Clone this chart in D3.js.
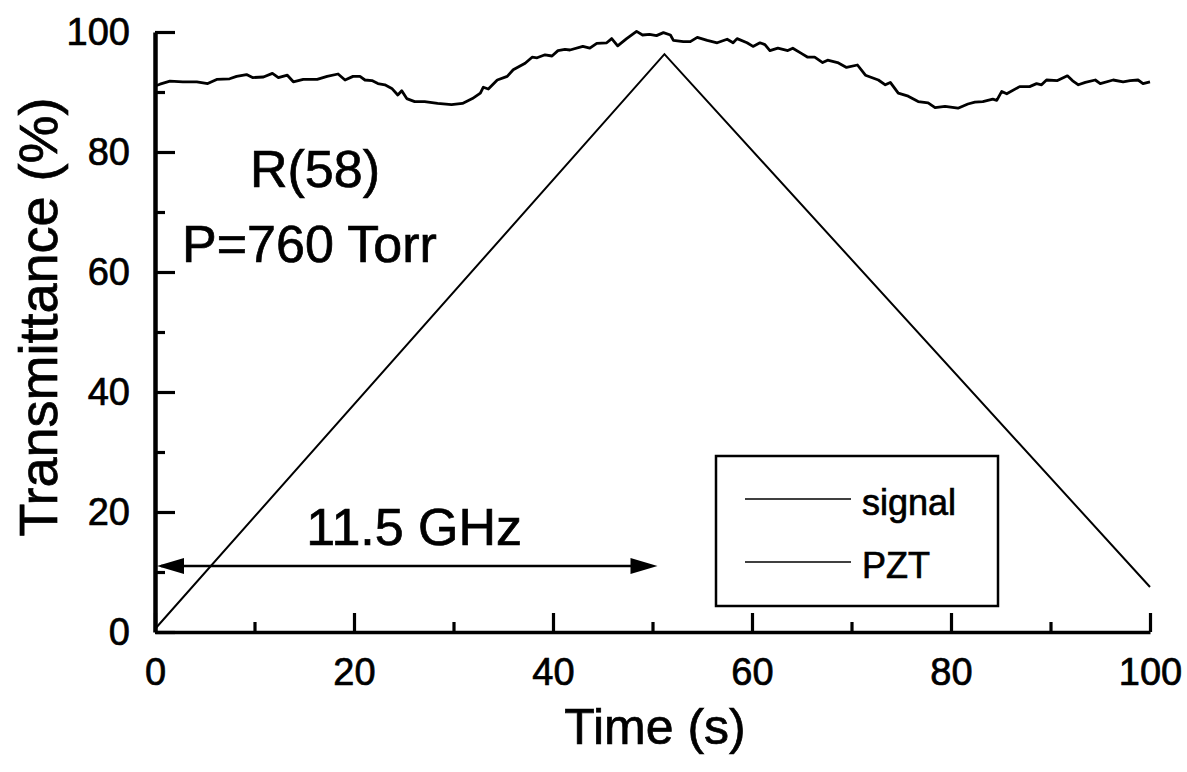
<!DOCTYPE html>
<html>
<head>
<meta charset="utf-8">
<script src="https://cdn.jsdelivr.net/npm/d3@7"></script>
<style>
  html, body { margin: 0; padding: 0; background: #fff; }
  svg { display: block; }
  text { font-family: "Liberation Sans", Arial, sans-serif; fill: #000; stroke: #000; stroke-width: 0.7px; }
</style>
</head>
<body>
<svg id="chart" width="1187" height="772"></svg>
<script>
// Time axis (s) for the transmitted signal trace
const signalTime = [0, 0.5, 1.5, 2.8, 4.2, 5.3, 6.2, 7.5, 8.2, 9.2, 9.8, 10.9, 11.8, 12.4, 13.3, 13.9, 14.9, 16.3, 17.3, 18.4, 19.1, 19.9, 20.6, 21.1, 21.8, 22.4, 23.1, 23.8, 24.4, 24.8, 25.3, 26.1, 27.1, 28.4, 29.8, 30.9, 31.9, 32.7, 33.0, 33.5, 34.4, 35.4, 36.0, 37.2, 37.9, 38.4, 39.2, 39.9, 40.5, 41.2, 41.7, 43.0, 43.7, 44.4, 45.4, 45.9, 46.5, 47.4, 48.4, 49.0, 49.7, 50.4, 51.1, 51.8, 52.1, 53.1, 53.8, 54.5, 55.5, 56.5, 57.5, 58.1, 58.5, 59.5, 60.1, 60.8, 61.3, 61.8, 62.6, 63.6, 64.1, 65.0, 65.6, 66.3, 67.1, 67.6, 68.6, 69.5, 70.6, 71.4, 72.7, 73.4, 73.9, 74.7, 75.7, 76.7, 77.7, 78.4, 79.4, 80.7, 81.7, 82.4, 83.2, 84.2, 84.6, 85.1, 85.6, 86.9, 87.9, 88.6, 89.1, 89.6, 90.7, 91.7, 92.2, 92.8, 93.5, 94.5, 95.0, 96.3, 97.3, 98.0, 98.8, 99.3, 100];
// Transmittance (%) of the signal trace
const signalValue = [91.0, 91.3, 91.8, 91.7, 91.7, 91.4, 92.1, 92.2, 92.6, 92.9, 92.4, 92.5, 93.1, 92.4, 92.8, 91.7, 92.1, 92.1, 92.6, 93.0, 92.0, 92.6, 92.6, 92.0, 91.9, 91.4, 91.2, 90.6, 89.5, 90.2, 88.9, 88.4, 88.4, 88.1, 87.9, 88.1, 88.9, 89.8, 90.8, 90.5, 92.0, 92.6, 93.7, 94.8, 95.8, 95.7, 96.2, 96.0, 96.9, 97.1, 97.0, 97.6, 97.3, 98.1, 98.2, 98.9, 97.7, 98.9, 100.1, 99.5, 99.6, 99.4, 99.9, 99.5, 98.6, 98.4, 98.4, 99.1, 98.6, 98.2, 98.8, 98.2, 98.9, 98.2, 97.6, 98.2, 97.9, 96.9, 97.3, 96.9, 97.3, 96.4, 95.8, 95.8, 94.9, 95.3, 94.9, 94.1, 94.5, 92.8, 92.0, 91.2, 91.6, 89.8, 89.3, 88.4, 88.2, 87.4, 87.6, 87.3, 88.0, 88.3, 88.4, 88.8, 88.6, 90.1, 89.7, 90.9, 90.9, 91.4, 91.2, 92.0, 91.9, 92.7, 91.9, 91.2, 91.6, 92.0, 91.4, 92.0, 91.7, 91.9, 92.0, 91.4, 91.7];
// PZT ramp: turning points (time, level)
const pztTime = [0, 51.2, 100];
const pztValue = [0.5, 96.3, 7.5];
// Axis ticks
const xMajorTicks = [0, 20, 40, 60, 80, 100];
const xMinorTicks = [10, 30, 50, 70, 90];
const yMajorTicks = [0, 20, 40, 60, 80, 100];
const yMinorTicks = [10, 30, 50, 70, 90];
// Scan span marker (from 0 s to the ramp top) and its label
const spanStart = 0, spanEnd = 50.5, spanLevel = 11;
const spanLabel = "11.5 GHz";
const lineLabel = ["R(58)", "P=760 Torr"];
const legendNames = ["signal", "PZT"];

const svg = d3.select("#chart");
const x = d3.scaleLinear().domain([0, 100]).range([155, 1150]);
const y = d3.scaleLinear().domain([0, 100]).range([632, 32]);

const signal = signalTime.map((t, i) => [t, signalValue[i]]);
const pzt = pztTime.map((t, i) => [t, pztValue[i]]);
const line = d3.line().x(d => x(d[0])).y(d => y(d[1]));

// Curves
svg.append("path").datum(signal).attr("d", line)
  .attr("fill", "none").attr("stroke", "#000").attr("stroke-width", 2.8)
  .attr("stroke-linejoin", "round");
svg.append("path").datum(pzt).attr("d", line)
  .attr("fill", "none").attr("stroke", "#000").attr("stroke-width", 2);

// Axes (inward ticks, left and bottom only)
const gx = svg.append("g").attr("transform", `translate(0,${y(0)})`);
gx.call(d3.axisBottom(x).tickValues(xMajorTicks).tickSize(-19).tickSizeOuter(0).tickPadding(26).tickFormat(d3.format("d")));
const gxm = svg.append("g").attr("transform", `translate(0,${y(0)})`);
gxm.call(d3.axisBottom(x).tickValues(xMinorTicks).tickSize(-10).tickSizeOuter(0).tickFormat(""));
gxm.select(".domain").remove();

const gy = svg.append("g").attr("transform", `translate(${x(0)},0)`);
gy.call(d3.axisLeft(y).tickValues(yMajorTicks).tickSize(-20).tickSizeOuter(0).tickPadding(25).tickFormat(d3.format("d")));
const gym = svg.append("g").attr("transform", `translate(${x(0)},0)`);
gym.call(d3.axisLeft(y).tickValues(yMinorTicks).tickSize(-10).tickSizeOuter(0).tickFormat(""));
gym.select(".domain").remove();

svg.selectAll(".tick line").attr("stroke", "#000").attr("stroke-width", 3.2);
gx.select(".domain").attr("stroke", "#000").attr("stroke-width", 3.5);
gy.select(".domain").attr("stroke", "#000").attr("stroke-width", 4.5);
svg.selectAll(".tick text")
  .style("font-family", "'Liberation Sans', Arial, sans-serif")
  .style("font-size", "38px").attr("fill", "#000")
  .attr("stroke", "#000").attr("stroke-width", 0.8);

// Axis titles
svg.append("text").attr("x", 655).attr("y", 744).attr("text-anchor", "middle")
  .style("font-size", "50px").text("Time (s)");
svg.append("text").attr("transform", "translate(57,317) rotate(-90)").attr("text-anchor", "middle")
  .style("font-size", "54px").text("Transmittance (%)");

// Line / pressure annotation
svg.append("text").attr("x", 250).attr("y", 187).style("font-size", "52px").text(lineLabel[0]);
svg.append("text").attr("x", 182).attr("y", 262).style("font-size", "52px").text(lineLabel[1]);

// Span arrow
const ay = y(spanLevel);
svg.append("line").attr("x1", x(spanStart) + 6).attr("x2", x(spanEnd) - 10)
  .attr("y1", ay).attr("y2", ay).attr("stroke", "#000").attr("stroke-width", 2.6);
const headL = 27, headW = 8;
svg.append("path").attr("d", `M${x(spanStart) + 2},${ay} L${x(spanStart) + 2 + headL},${ay - headW} L${x(spanStart) + 2 + headL},${ay + headW} Z`).attr("fill", "#000");
svg.append("path").attr("d", `M${x(spanEnd)},${ay} L${x(spanEnd) - headL},${ay - headW} L${x(spanEnd) - headL},${ay + headW} Z`).attr("fill", "#000");
svg.append("text").attr("x", (x(spanStart) + x(spanEnd)) / 2 + 8).attr("y", 545)
  .attr("text-anchor", "middle").style("font-size", "52px").text(spanLabel);

// Legend
const lg = svg.append("g");
lg.append("rect").attr("x", 716).attr("y", 456).attr("width", 282).attr("height", 150)
  .attr("fill", "none").attr("stroke", "#000").attr("stroke-width", 2.5);
legendNames.forEach((name, i) => {
  const ly = 499 + i * 63;
  lg.append("line").attr("x1", 745).attr("x2", 851).attr("y1", ly).attr("y2", ly)
    .attr("stroke", "#000").attr("stroke-width", 1.4);
  lg.append("text").attr("x", 862).attr("y", ly + 16).style("font-size", "36px").text(name);
});
</script>
</body>
</html>
